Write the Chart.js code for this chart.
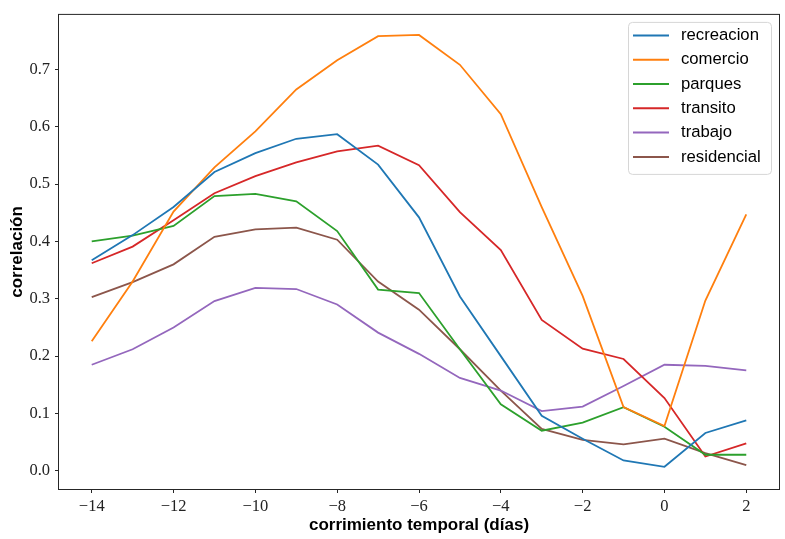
<!DOCTYPE html>
<html>
<head>
<meta charset="utf-8">
<script src="https://cdn.jsdelivr.net/npm/chart.js@4.4.1/dist/chart.umd.min.js"></script>
<style>
  html, body { margin: 0; padding: 0; background: #fff; }
  canvas { display: block; }
</style>
</head>
<body>
<canvas id="chart" width="785" height="539"></canvas>
<script>
// corrimiento temporal (días)
const dias = [-14, -13, -12, -11, -10, -9, -8, -7, -6, -5, -4, -3, -2, -1, 0, 1, 2];

const recreacion  = [0.367, 0.411, 0.460, 0.521, 0.554, 0.579, 0.587, 0.534, 0.442, 0.304, 0.200, 0.096, 0.056, 0.018, 0.007, 0.066, 0.088];
const comercio    = [0.226, 0.330, 0.452, 0.529, 0.592, 0.665, 0.716, 0.758, 0.760, 0.708, 0.622, 0.460, 0.305, 0.111, 0.078, 0.297, 0.447];
const parques     = [0.400, 0.410, 0.427, 0.479, 0.483, 0.470, 0.418, 0.316, 0.310, 0.212, 0.116, 0.070, 0.084, 0.111, 0.077, 0.028, 0.028];
const transito    = [0.362, 0.391, 0.437, 0.484, 0.514, 0.538, 0.557, 0.567, 0.533, 0.451, 0.385, 0.263, 0.213, 0.195, 0.127, 0.025, 0.048];
const trabajo     = [0.185, 0.212, 0.250, 0.296, 0.319, 0.317, 0.290, 0.241, 0.204, 0.162, 0.140, 0.104, 0.112, 0.148, 0.185, 0.183, 0.175];
const residencial = [0.303, 0.329, 0.360, 0.408, 0.421, 0.424, 0.403, 0.330, 0.281, 0.212, 0.140, 0.073, 0.054, 0.046, 0.056, 0.031, 0.010];

const xTicks = [-14, -12, -10, -8, -6, -4, -2, 0, 2];
const yTicks = [0.0, 0.1, 0.2, 0.3, 0.4, 0.5, 0.6, 0.7];

const series = [
    { label: 'recreacion',  values: recreacion,  color: '#1f77b4' },
    { label: 'comercio',    values: comercio,    color: '#ff7f0e' },
    { label: 'parques',     values: parques,     color: '#2ca02c' },
    { label: 'transito',    values: transito,    color: '#d62728' },
    { label: 'trabajo',     values: trabajo,     color: '#9467bd' },
    { label: 'residencial', values: residencial, color: '#8c564b' }
];

const tickFont = { family: '"Liberation Serif", "DejaVu Serif", serif', size: 16.5 };
const titleFont = { family: '"Liberation Sans", Arial, sans-serif', size: 17, weight: 'bold' };

// matplotlib-style box legend in the upper right corner
const boxLegend = {
    id: 'boxLegend',
    afterDraw(chart) {
        const ctx = chart.ctx;
        const area = chart.chartArea;
        const x = area.right - 8 - 143, y = area.top + 7;
        const w = 143, h = 152;
        ctx.save();
        ctx.fillStyle = 'rgba(255,255,255,0.8)';
        ctx.strokeStyle = '#d6d6d6';
        ctx.lineWidth = 1;
        ctx.beginPath();
        ctx.roundRect(x + 0.5, y + 0.5, w, h, 4);
        ctx.fill();
        ctx.stroke();
        ctx.font = '16.7px "Liberation Sans", Arial, sans-serif';
        ctx.textBaseline = 'middle';
        ctx.fillStyle = '#000';
        chart.data.datasets.forEach((ds, i) => {
            const cy = y + 13.5 + i * 24.3;
            ctx.strokeStyle = ds.borderColor;
            ctx.lineWidth = 2;
            ctx.beginPath();
            ctx.moveTo(x + 5, cy);
            ctx.lineTo(x + 41, cy);
            ctx.stroke();
            ctx.fillText(ds.label, x + 53, cy);
        });
        ctx.restore();
    }
};

// full frame around the axes
const frame = {
    id: 'frame',
    afterDatasetsDraw(chart) {
        const { ctx, chartArea: a } = chart;
        ctx.save();
        ctx.strokeStyle = '#262626';
        ctx.lineWidth = 1;
        ctx.strokeRect(a.left - 0.5, a.top - 0.5, a.right - a.left + 1, a.bottom - a.top + 1);
        ctx.restore();
    }
};

new Chart(document.getElementById('chart').getContext('2d'), {
    type: 'line',
    data: {
        datasets: series.map(s => ({
            label: s.label,
            data: dias.map((d, i) => ({ x: d, y: s.values[i] })),
            borderColor: s.color,
            backgroundColor: s.color,
            borderWidth: 1.8,
            pointRadius: 0,
            tension: 0,
            fill: false
        }))
    },
    options: {
        responsive: false,
        animation: false,
        layout: { padding: { top: 12, right: 6, left: 0, bottom: 0 } },
        plugins: {
            legend: { display: false },
            tooltip: { enabled: false }
        },
        scales: {
            x: {
                type: 'linear',
                min: -14.8,
                max: 2.8,
                afterBuildTicks: scale => { scale.ticks = xTicks.map(v => ({ value: v })); },
                afterFit: scale => { scale.height = 50; },
                ticks: {
                    font: tickFont,
                    color: '#222',
                    padding: 4,
                    maxRotation: 0,
                    callback: v => String(v).replace('-', '\u2212')
                },
                grid: { drawOnChartArea: false, drawTicks: true, tickLength: 4, tickColor: '#262626' },
                border: { display: false },
                title: { display: true, text: 'corrimiento temporal (días)', font: titleFont, color: '#000', padding: { top: 0, bottom: 3 } }
            },
            y: {
                type: 'linear',
                min: -0.0317,
                max: 0.795,
                afterBuildTicks: scale => { scale.ticks = yTicks.map(v => ({ value: v })); },
                afterFit: scale => { scale.width = 59; },
                ticks: {
                    font: tickFont,
                    color: '#222',
                    padding: 5,
                    callback: v => v.toFixed(1)
                },
                grid: { drawOnChartArea: false, drawTicks: true, tickLength: 4, tickColor: '#262626' },
                border: { display: false },
                title: { display: true, text: 'correlación', font: titleFont, color: '#000', padding: { top: 7, bottom: 0 } }
            }
        }
    },
    plugins: [boxLegend, frame]
});
</script>
</body>
</html>
